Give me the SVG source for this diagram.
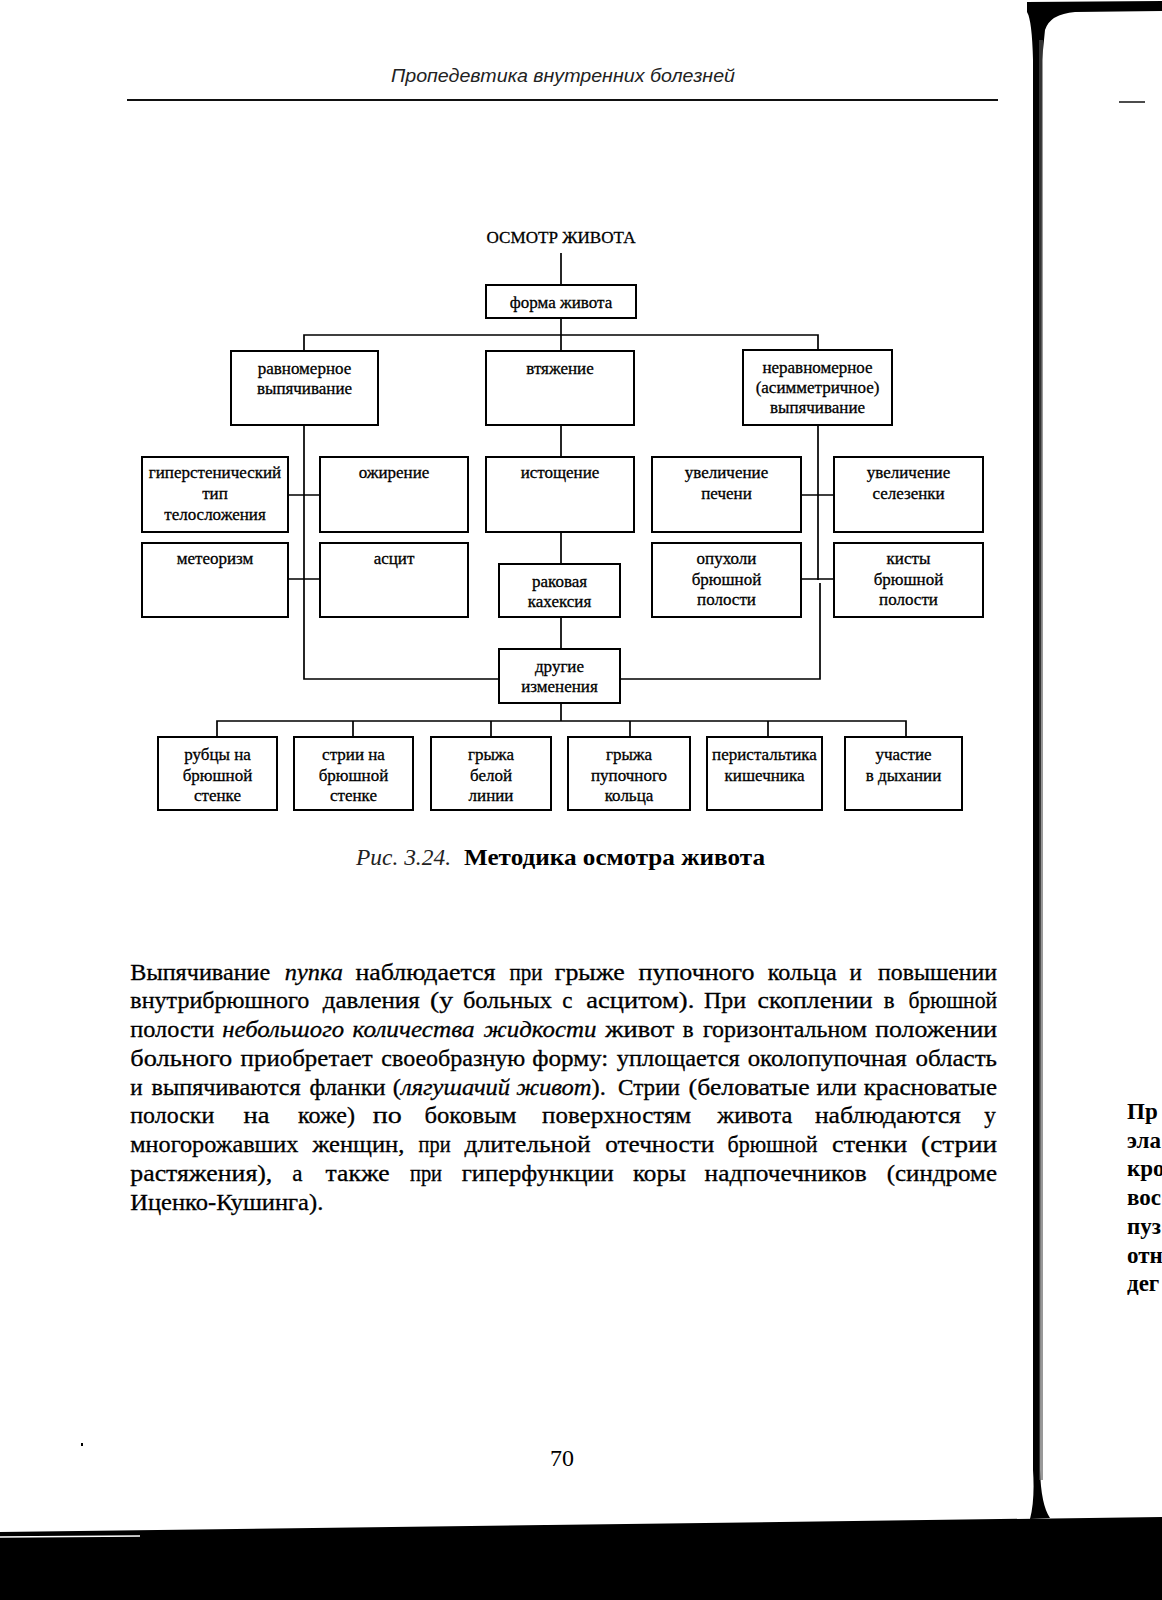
<svg xmlns="http://www.w3.org/2000/svg" width="1162" height="1600" viewBox="0 0 1162 1600">
<style>
.box{fill:#fff;stroke:#000;stroke-width:2}
.ln{fill:none;stroke:#000;stroke-width:1.7}
.t{font-family:"Liberation Serif","Times New Roman",serif;font-size:17px;fill:#000;stroke:#000;stroke-width:0.3;text-anchor:middle}
.body text{font-family:"Liberation Serif","Times New Roman",serif;font-size:23px;fill:#000;stroke:#000;stroke-width:0.3}
.it{font-style:italic}
</style>
<rect x="0" y="0" width="1162" height="1600" fill="#fff"/>
<!-- page header -->
<text x="391" y="82" font-family="Liberation Sans, Arial, sans-serif" font-style="italic" font-size="18" fill="#222" textLength="344" lengthAdjust="spacingAndGlyphs">Пропедевтика внутренних болезней</text>
<line x1="127" y1="100" x2="998" y2="100" stroke="#111" stroke-width="2"/>
<line x1="1119" y1="102" x2="1145" y2="102" stroke="#111" stroke-width="1.5"/>
<!-- right page edge -->
<path d="M1027,2 L1162,1 L1162,11 L1075,12 Q1050,14 1045,30 L1042,60 L1040,1470 Q1041,1505 1050,1518 L1030,1519 Q1035,1500 1033,1470 L1033,60 Q1032,20 1027,12 Z" fill="#000"/>
<rect x="1039" y="40" width="4" height="1440" fill="#555" opacity="0.6"/>
<!-- bottom band -->
<polygon points="0,1532 1162,1517 1162,1600 0,1600" fill="#000"/>
<line x1="0" y1="1537" x2="140" y2="1536" stroke="#fff" stroke-width="1.5"/>
<rect x="81" y="1443" width="2" height="3" fill="#000"/>

<g id="connectors">
<path class="ln" d="M561,253 V285"/>
<path class="ln" d="M561,318 V335 M304,351 V335 H818 V350 M561,335 V351"/>
<path class="ln" d="M304,425 V679 H499"/>
<path class="ln" d="M288,495 H320 M288,579 H320"/>
<path class="ln" d="M561,425 V457 M561,532 V564 M561,617 V649"/>
<path class="ln" d="M818,425 V580 M820,583 V679 H620"/>
<path class="ln" d="M801,495 H834 M801,579 H834"/>
<path class="ln" d="M561,703 V721 M217,737 V721 H906 V737 M353,721 V737 M491,721 V737 M630,721 V737 M768,721 V737"/>
</g>

<g id="n_title"><text class="t" x="561" y="243" textLength="149" lengthAdjust="spacingAndGlyphs">ОСМОТР ЖИВОТА</text></g>
<g id="n_forma"><rect class="box" x="486" y="285" width="150" height="33"/><text class="t" x="561" y="308">форма живота</text></g>
<g id="n_ravn"><rect class="box" x="231" y="351" width="147" height="74"/><text class="t" x="304.5" y="374">равномерное<tspan x="304.5" dy="20">выпячивание</tspan></text></g>
<g id="n_vtyazh"><rect class="box" x="486" y="351" width="148" height="74"/><text class="t" x="560" y="374">втяжение</text></g>
<g id="n_nerav"><rect class="box" x="743" y="350" width="149" height="75"/><text class="t" x="817.5" y="373">неравномерное<tspan x="817.5" dy="20">(асимметричное)</tspan><tspan x="817.5" dy="20">выпячивание</tspan></text></g>
<g id="n_giper"><rect class="box" x="142" y="457" width="146" height="75"/><text class="t" x="215" y="478">гиперстенический<tspan x="215" dy="20.8">тип</tspan><tspan x="215" dy="20.8">телосложения</tspan></text></g>
<g id="n_ozhir"><rect class="box" x="320" y="457" width="148" height="75"/><text class="t" x="394" y="478">ожирение</text></g>
<g id="n_istoshch"><rect class="box" x="486" y="457" width="148" height="75"/><text class="t" x="560" y="478">истощение</text></g>
<g id="n_uvpech"><rect class="box" x="652" y="457" width="149" height="75"/><text class="t" x="726.5" y="478">увеличение<tspan x="726.5" dy="20.8">печени</tspan></text></g>
<g id="n_uvsel"><rect class="box" x="834" y="457" width="149" height="75"/><text class="t" x="908.5" y="478">увеличение<tspan x="908.5" dy="20.8">селезенки</tspan></text></g>
<g id="n_meteo"><rect class="box" x="142" y="543" width="146" height="74"/><text class="t" x="215" y="564">метеоризм</text></g>
<g id="n_ascit"><rect class="box" x="320" y="543" width="148" height="74"/><text class="t" x="394" y="564">асцит</text></g>
<g id="n_rak"><rect class="box" x="499" y="564" width="121" height="53"/><text class="t" x="559.5" y="587">раковая<tspan x="559.5" dy="20">кахексия</tspan></text></g>
<g id="n_opuh"><rect class="box" x="652" y="543" width="149" height="74"/><text class="t" x="726.5" y="564">опухоли<tspan x="726.5" dy="20.5">брюшной</tspan><tspan x="726.5" dy="20.5">полости</tspan></text></g>
<g id="n_kisty"><rect class="box" x="834" y="543" width="149" height="74"/><text class="t" x="908.5" y="564">кисты<tspan x="908.5" dy="20.5">брюшной</tspan><tspan x="908.5" dy="20.5">полости</tspan></text></g>
<g id="n_drugie"><rect class="box" x="499" y="649" width="121" height="54"/><text class="t" x="559.5" y="672">другие<tspan x="559.5" dy="20">изменения</tspan></text></g>
<g id="n_rubcy"><rect class="box" x="158" y="737" width="119" height="73"/><text class="t" x="217.5" y="760">рубцы на<tspan x="217.5" dy="20.5">брюшной</tspan><tspan x="217.5" dy="20.5">стенке</tspan></text></g>
<g id="n_strii"><rect class="box" x="294" y="737" width="119" height="73"/><text class="t" x="353.5" y="760">стрии на<tspan x="353.5" dy="20.5">брюшной</tspan><tspan x="353.5" dy="20.5">стенке</tspan></text></g>
<g id="n_gbel"><rect class="box" x="431" y="737" width="120" height="73"/><text class="t" x="491" y="760">грыжа<tspan x="491" dy="20.5">белой</tspan><tspan x="491" dy="20.5">линии</tspan></text></g>
<g id="n_gpup"><rect class="box" x="568" y="737" width="122" height="73"/><text class="t" x="629" y="760">грыжа<tspan x="629" dy="20.5">пупочного</tspan><tspan x="629" dy="20.5">кольца</tspan></text></g>
<g id="n_perist"><rect class="box" x="707" y="737" width="115" height="73"/><text class="t" x="764.5" y="760">перистальтика<tspan x="764.5" dy="20.5">кишечника</tspan></text></g>
<g id="n_dyh"><rect class="box" x="845" y="737" width="117" height="73"/><text class="t" x="903.5" y="760">участие<tspan x="903.5" dy="20.5">в дыхании</tspan></text></g>

<!-- caption -->
<text x="356" y="865" font-family="Liberation Serif, Times New Roman, serif" font-size="23" fill="#222" font-style="italic" textLength="95" lengthAdjust="spacingAndGlyphs">Рис. 3.24.</text>
<text x="464" y="865" font-family="Liberation Serif, Times New Roman, serif" font-size="23" font-weight="bold" fill="#000" textLength="301" lengthAdjust="spacingAndGlyphs">Методика осмотра живота</text>

<!-- body text -->
<g class="body">
<g id="line1">
<text x="130.3" y="979.5" textLength="140" lengthAdjust="spacingAndGlyphs">Выпячивание</text>
<text x="284.8" y="979.5" class="it" textLength="58" lengthAdjust="spacingAndGlyphs">пупка</text>
<text x="355.5" y="979.5" textLength="140" lengthAdjust="spacingAndGlyphs">наблюдается</text>
<text x="509.4" y="979.5" textLength="33" lengthAdjust="spacingAndGlyphs">при</text>
<text x="554.8" y="979.5" textLength="70" lengthAdjust="spacingAndGlyphs">грыже</text>
<text x="638.6" y="979.5" textLength="116" lengthAdjust="spacingAndGlyphs">пупочного</text>
<text x="767.8" y="979.5" textLength="69" lengthAdjust="spacingAndGlyphs">кольца</text>
<text x="849.4" y="979.5">и</text>
<text x="878.1" y="979.5" textLength="119" lengthAdjust="spacingAndGlyphs">повышении</text>
</g>
<g id="line2">
<text x="130.3" y="1008.3" textLength="179" lengthAdjust="spacingAndGlyphs">внутрибрюшного</text>
<text x="322.7" y="1008.3" textLength="97" lengthAdjust="spacingAndGlyphs">давления</text>
<text x="430.1" y="1008.3" textLength="23" lengthAdjust="spacingAndGlyphs">(у</text>
<text x="462.9" y="1008.3" textLength="89" lengthAdjust="spacingAndGlyphs">больных</text>
<text x="562.2" y="1008.3">с</text>
<text x="586.3" y="1008.3" textLength="108" lengthAdjust="spacingAndGlyphs">асцитом).</text>
<text x="704.1" y="1008.3" textLength="42" lengthAdjust="spacingAndGlyphs">При</text>
<text x="757.5" y="1008.3" textLength="115" lengthAdjust="spacingAndGlyphs">скоплении</text>
<text x="883.8" y="1008.3">в</text>
<text x="908.5" y="1008.3" textLength="88.5" lengthAdjust="spacingAndGlyphs">брюшной</text>
</g>
<g id="line3">
<text x="130.3" y="1037" textLength="84" lengthAdjust="spacingAndGlyphs">полости</text>
<text x="222.2" y="1037" class="it" textLength="122" lengthAdjust="spacingAndGlyphs">небольшого</text>
<text x="352.6" y="1037" class="it" textLength="122" lengthAdjust="spacingAndGlyphs">количества</text>
<text x="483.5" y="1037" class="it" textLength="113" lengthAdjust="spacingAndGlyphs">жидкости</text>
<text x="605.3" y="1037" textLength="69" lengthAdjust="spacingAndGlyphs">живот</text>
<text x="682.8" y="1037">в</text>
<text x="702.9" y="1037" textLength="164" lengthAdjust="spacingAndGlyphs">горизонтальном</text>
<text x="875.2" y="1037" textLength="122" lengthAdjust="spacingAndGlyphs">положении</text>
</g>
<g id="line4">
<text x="130.3" y="1065.8" textLength="102" lengthAdjust="spacingAndGlyphs">больного</text>
<text x="240.6" y="1065.8" textLength="132" lengthAdjust="spacingAndGlyphs">приобретает</text>
<text x="381.3" y="1065.8" textLength="144" lengthAdjust="spacingAndGlyphs">своеобразную</text>
<text x="532.3" y="1065.8" textLength="76" lengthAdjust="spacingAndGlyphs">форму:</text>
<text x="616.8" y="1065.8" textLength="123" lengthAdjust="spacingAndGlyphs">уплощается</text>
<text x="747.7" y="1065.8" textLength="159" lengthAdjust="spacingAndGlyphs">околопупочная</text>
<text x="915.4" y="1065.8" textLength="81.6" lengthAdjust="spacingAndGlyphs">область</text>
</g>
<g id="line5">
<text x="130.3" y="1094.5">и</text>
<text x="151.6" y="1094.5" textLength="149" lengthAdjust="spacingAndGlyphs">выпячиваются</text>
<text x="309.5" y="1094.5" textLength="76" lengthAdjust="spacingAndGlyphs">фланки</text>
<text x="392.8" y="1094.5" textLength="213" lengthAdjust="spacingAndGlyphs">(<tspan class="it">лягушачий живот</tspan>).</text>
<text x="618" y="1094.5" textLength="62" lengthAdjust="spacingAndGlyphs">Стрии</text>
<text x="688.6" y="1094.5" textLength="121" lengthAdjust="spacingAndGlyphs">(беловатые</text>
<text x="816.6" y="1094.5" textLength="40" lengthAdjust="spacingAndGlyphs">или</text>
<text x="863.7" y="1094.5" textLength="133.3" lengthAdjust="spacingAndGlyphs">красноватые</text>
</g>
<g id="line6">
<text x="130.3" y="1123.3" textLength="84" lengthAdjust="spacingAndGlyphs">полоски</text>
<text x="243.5" y="1123.3" textLength="26" lengthAdjust="spacingAndGlyphs">на</text>
<text x="298" y="1123.3" textLength="57" lengthAdjust="spacingAndGlyphs">коже)</text>
<text x="372.7" y="1123.3" textLength="29" lengthAdjust="spacingAndGlyphs">по</text>
<text x="424.4" y="1123.3" textLength="92" lengthAdjust="spacingAndGlyphs">боковым</text>
<text x="542.1" y="1123.3" textLength="149" lengthAdjust="spacingAndGlyphs">поверхностям</text>
<text x="717.3" y="1123.3" textLength="75" lengthAdjust="spacingAndGlyphs">живота</text>
<text x="814.9" y="1123.3" textLength="146" lengthAdjust="spacingAndGlyphs">наблюдаются</text>
<text x="984.3" y="1123.3">у</text>
</g>
<g id="line7">
<text x="130.3" y="1152" textLength="168" lengthAdjust="spacingAndGlyphs">многорожавших</text>
<text x="312.4" y="1152" textLength="92" lengthAdjust="spacingAndGlyphs">женщин,</text>
<text x="418.6" y="1152" textLength="32" lengthAdjust="spacingAndGlyphs">при</text>
<text x="464.6" y="1152" textLength="126" lengthAdjust="spacingAndGlyphs">длительной</text>
<text x="605.3" y="1152" textLength="109" lengthAdjust="spacingAndGlyphs">отечности</text>
<text x="727.6" y="1152" textLength="90" lengthAdjust="spacingAndGlyphs">брюшной</text>
<text x="832.1" y="1152" textLength="75" lengthAdjust="spacingAndGlyphs">стенки</text>
<text x="921.1" y="1152" textLength="76" lengthAdjust="spacingAndGlyphs">(стрии</text>
</g>
<g id="line8">
<text x="130.3" y="1180.8" textLength="142" lengthAdjust="spacingAndGlyphs">растяжения),</text>
<text x="292.3" y="1180.8">а</text>
<text x="325.6" y="1180.8" textLength="64" lengthAdjust="spacingAndGlyphs">также</text>
<text x="410" y="1180.8" textLength="32" lengthAdjust="spacingAndGlyphs">при</text>
<text x="461.7" y="1180.8" textLength="152" lengthAdjust="spacingAndGlyphs">гиперфункции</text>
<text x="632.9" y="1180.8" textLength="53" lengthAdjust="spacingAndGlyphs">коры</text>
<text x="704.6" y="1180.8" textLength="162" lengthAdjust="spacingAndGlyphs">надпочечников</text>
<text x="886.7" y="1180.8" textLength="110.3" lengthAdjust="spacingAndGlyphs">(синдроме</text>
</g>
<g id="line9">
<text x="130.3" y="1209.5" textLength="193" lengthAdjust="spacingAndGlyphs">Иценко-Кушинга).</text>
</g>
</g>

<!-- next page fragments -->
<g font-family="Liberation Serif, Times New Roman, serif" font-size="23" font-weight="bold" fill="#000">
<text x="1127" y="1119">Пр</text>
<text x="1127" y="1148">эла</text>
<text x="1127" y="1176">кро</text>
<text x="1127" y="1205">вос</text>
<text x="1127" y="1234">пуз</text>
<text x="1127" y="1263">отн</text>
<text x="1127" y="1291">дег</text>
</g>

<!-- page number -->
<text x="562" y="1466" font-family="Liberation Serif, Times New Roman, serif" font-size="24" text-anchor="middle" fill="#000">70</text>
</svg>
